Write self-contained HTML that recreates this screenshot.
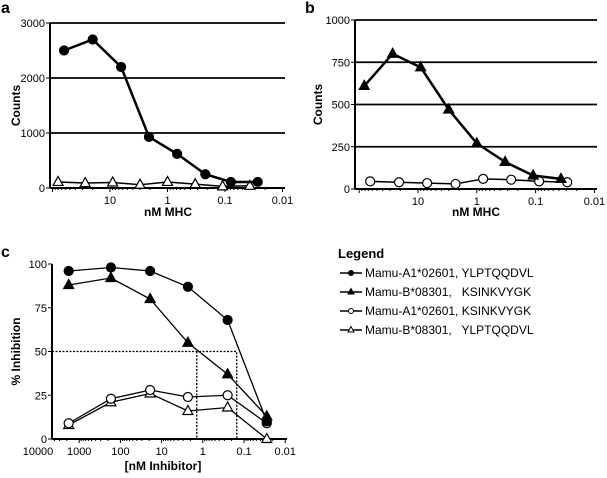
<!DOCTYPE html>
<html><head><meta charset="utf-8"><style>
body{margin:0;background:#fff}
svg{display:block;font-family:"Liberation Sans",Arial,sans-serif}
.pre{white-space:pre}
</style></head><body>
<svg id="fig" width="607" height="478" viewBox="0 0 607 478" xmlns="http://www.w3.org/2000/svg">
<g id="root"></g>
</svg>
<script>
// Panel a data
const aCircX=[63,20,6.4,2.1,0.68,0.22,0.079,0.027];
const aCircY=[2500,2700,2200,930,620,250,110,110];
const aTriX=[80,27,9,3,1,0.33,0.11,0.037];
const aTriY=[110,90,100,60,110,70,30,40];
const aYTicks=[0,1000,2000,3000];
const aXTicks=["10","1","0.1","0.01"];
// Panel b data
const bTriX=[82,27,9,3,1,0.33,0.11,0.037];
const bTriY=[610,800,720,470,270,160,80,60];
const bCircX=[65,21,7,2.3,0.78,0.26,0.087,0.029];
const bCircY=[45,40,35,30,60,55,45,40];
const bYTicks=[0,250,500,750,1000];
const bXTicks=["10","1","0.1","0.01"];
// Panel c data
const cX=[1800,170,19,2.3,0.25,0.028];
const cFillCirc=[96,98,96,87,68,10];
const cFillTri=[88,92,80,55,37,13];
const cOpenCirc=[9,23,28,24,25,9];
const cOpenTri=[8,21,26,16,18,0];
const cYTicks=[0,25,50,75,100];
const cXTicks=["10000","1000","100","10","1","0.1","0.01"];
const cIC50=[1.4,0.15];
const cIC50Level=50;
const legendLabels=["Mamu-A1*02601, YLPTQQDVL","Mamu-B*08301,   KSINKVYGK","Mamu-A1*02601, KSINKVYGK","Mamu-B*08301,   YLPTQQDVL"];

const NS="http://www.w3.org/2000/svg";
const root=document.getElementById('root');
function el(tag,attrs,parent,txt){const e=document.createElementNS(NS,tag);for(const k in attrs)e.setAttribute(k,attrs[k]);if(txt!==undefined)e.textContent=txt;(parent||root).appendChild(e);return e;}
function marker(g,type,x,y,filled){
  let m;
  if(type==='c'){m=el('circle',{cx:x,cy:y,r:4.5,fill:filled?'#000':'#fff',stroke:'#000','stroke-width':1.2},g);}
  else{m=el('polygon',{points:`${x},${y-5.5} ${x-5},${y+3.5} ${x+5},${y+3.5}`,fill:filled?'#000':'#fff',stroke:'#000','stroke-width':1.2},g);}
  
  
}
function series(g,xs,ys,sx,sy,type,filled,width,name){
  const s=el('g',{},g);
  
  
  el('polyline',{points:xs.map((v,i)=>sx(v)+','+sy(ys[i])).join(' '),fill:'none',stroke:'#000','stroke-width':width},s);
  xs.forEach((v,i)=>marker(s,type,sx(v),sy(ys[i]),filled));
}
function panel(opts){
  const g=el('g',{});
  
  
  const {x0,x1,y0,y1,ymax,xRef,xRefVal,dec}=opts;
  const sx=v=>xRef+(Math.log10(xRefVal)-Math.log10(v))*dec;
  const sy=v=>y0-(v/ymax)*(y0-y1);
  if(opts.grid){opts.yTicks.forEach(t=>{if(t>0){const l=el('line',{x1:x0,x2:x1,y1:sy(t),y2:sy(t),stroke:'#000','stroke-width':1.8},g);}});}
  for(let d=-3;d<5;d++){for(let k=1;k<10;k++){const v=Math.pow(10,d)*k;const px=sx(v);if(px>x0&&px<=x1){el('line',{x1:px,x2:px,y1:y0,y2:y0+(k===1?4:2),stroke:'#000','stroke-width':1},g);}}}
  opts.yTicks.forEach(t=>{el('line',{x1:x0-4,x2:x0,y1:sy(t),y2:sy(t),stroke:'#000','stroke-width':1},g);
    const tl=el('text',{x:x0-5,y:sy(t)+4,'font-size':11,'text-anchor':'end'},g,String(t));});
  opts.xTicks.forEach(t=>{const tl=el('text',{x:sx(parseFloat(t)),y:y0+16,'font-size':11,'text-anchor':'middle'},g,t);});
  const ya=el('line',{x1:x0,x2:x0,y1:y1,y2:y0,stroke:'#000','stroke-width':2},g);
  const xa=el('line',{x1:x0,x2:x1,y1:y0,y2:y0,stroke:'#000','stroke-width':2},g);
  const yt=el('text',{transform:`translate(${opts.ytX},${(y0+y1)/2}) rotate(-90)`,'font-size':12,'font-weight':'bold','text-anchor':'middle'},g,opts.ytitle);
  const xt=el('text',{x:opts.xtX,y:opts.xtY,'font-size':12,'font-weight':'bold','text-anchor':'middle'},g,opts.xtitle);
  const pl=el('text',{x:opts.lx,y:opts.ly,'font-size':16,'font-weight':'bold'},g,opts.label);
  return {g,sx,sy};
}
let A=panel({name:'panel-a',x0:50,x1:285,y0:188,y1:23,ymax:3000,xRef:110,xRefVal:10,dec:57.5,grid:true,yTicks:aYTicks,xTicks:aXTicks,ytitle:'Counts',ytX:20,xtitle:'nM MHC',xtX:168,xtY:216,label:'a',lx:1,ly:13});
series(A.g,aTriX,aTriY,A.sx,A.sy,'t',false,1.5,'series-a-open-triangles');
series(A.g,aCircX,aCircY,A.sx,A.sy,'c',true,2.5,'series-a-filled-circles');
let B=panel({name:'panel-b',x0:355,x1:597,y0:189,y1:20,ymax:1000,xRef:418,xRefVal:10,dec:58.8,grid:true,yTicks:bYTicks,xTicks:bXTicks,ytitle:'Counts',ytX:322,xtitle:'nM MHC',xtX:476,xtY:216,label:'b',lx:305,ly:13});
series(B.g,bCircX,bCircY,B.sx,B.sy,'c',false,1.5,'series-b-open-circles');
series(B.g,bTriX,bTriY,B.sx,B.sy,'t',true,2.5,'series-b-filled-triangles');
let C=panel({name:'panel-c',x0:52,x1:287,y0:439,y1:264,ymax:100,xRef:38,xRefVal:10000,dec:41.2,grid:false,yTicks:cYTicks,xTicks:cXTicks,ytitle:'% Inhibition',ytX:20,xtitle:'[nM Inhibitor]',xtX:163,xtY:470,label:'c',lx:1,ly:257});
const dl=el('polyline',{points:`52,${C.sy(cIC50Level)} ${C.sx(cIC50[1])},${C.sy(cIC50Level)} ${C.sx(cIC50[1])},${C.sy(0)}`,fill:'none',stroke:'#000','stroke-width':1.3,'stroke-dasharray':'2,1.5'},C.g);

const dl2=el('line',{x1:C.sx(cIC50[0]),x2:C.sx(cIC50[0]),y1:C.sy(cIC50Level),y2:C.sy(0),stroke:'#000','stroke-width':1.3,'stroke-dasharray':'2,1.5'},C.g);

series(C.g,cX,cOpenTri,C.sx,C.sy,'t',false,1.3,'series-c-open-triangles');
series(C.g,cX,cOpenCirc,C.sx,C.sy,'c',false,1.3,'series-c-open-circles');
series(C.g,cX,cFillTri,C.sx,C.sy,'t',true,1.3,'series-c-filled-triangles');
series(C.g,cX,cFillCirc,C.sx,C.sy,'c',true,1.3,'series-c-filled-circles');
const lg=el('g',{});


const lt=el('text',{x:338,y:258,'font-size':13,'font-weight':'bold'},lg,'Legend');

const legTypes=[['c',true],['t',true],['c',false],['t',false]];
legendLabels.forEach((lab,i)=>{
  const y=273+i*19;
  const e=el('g',{},lg);
  
  
  el('line',{x1:340,x2:362,y1:y,y2:y,stroke:'#000','stroke-width':1.5},e);
  const t=legTypes[i];
  if(t[0]==='c')el('circle',{cx:351,cy:y,r:2.5,fill:t[1]?'#000':'#fff',stroke:'#000','stroke-width':1},e);
  else el('polygon',{points:`351,${y-3.5} 348,${y+2} 354,${y+2}`,fill:t[1]?'#000':'#fff',stroke:'#000','stroke-width':1},e);
  el('text',{x:365,y:y+4,'font-size':12,'class':'pre'},e,lab);
});
</script>
</body></html>
